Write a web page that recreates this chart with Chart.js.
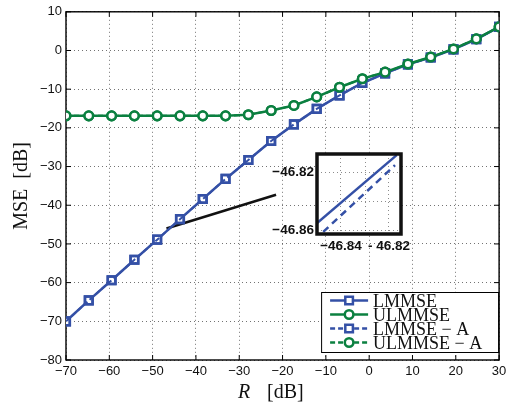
<!DOCTYPE html>
<html><head><meta charset="utf-8">
<script src="https://cdn.jsdelivr.net/npm/chart.js@4"></script>
<style>
html,body{margin:0;padding:0;background:#fff;}
#wrap{position:relative;width:507px;height:407px;overflow:hidden;}
#main{position:absolute;left:0;top:0;}
#inset{position:absolute;left:250px;top:140px;}
</style></head><body>
<div id="wrap"><canvas id="main" width="507" height="407"></canvas><canvas id="inset" width="180" height="120"></canvas></div>
<script>
// ---- data ----
const R = [-70, -64.74, -59.47, -54.21, -48.95, -43.68, -38.42, -33.16, -27.89, -22.63, -17.37, -12.11, -6.84, -1.58, 3.68, 8.95, 14.21, 19.47, 24.74, 30];
const lmmse   = [-70.0, -64.6, -59.4, -54.1, -48.9, -43.6, -38.4, -33.2, -28.3, -23.4, -19.1, -15.1, -11.6, -8.4, -5.9, -3.6, -1.8, 0.3, 2.9, 6.1];
const ulmmse  = [-16.9, -16.9, -16.9, -16.9, -16.9, -16.9, -16.9, -16.9, -16.6, -15.5, -14.2, -12.0, -9.5, -7.3, -5.6, -3.5, -1.7, 0.4, 3.0, 6.1];
const lmmseA  = [-70.0, -64.6, -59.4, -54.1, -48.9, -43.6, -38.4, -33.2, -28.3, -23.4, -19.1, -15.1, -11.6, -8.4, -5.9, -3.6, -1.8, 0.3, 2.9, 6.1];
const ulmmseA = [-16.9, -16.9, -16.9, -16.9, -16.9, -16.9, -16.9, -16.9, -16.6, -15.5, -14.2, -12.0, -9.5, -7.3, -5.6, -3.5, -1.7, 0.4, 3.0, 6.1];
const seriesNames = ['LMMSE', 'ULMMSE', 'LMMSE \u2212 A', 'ULMMSE \u2212 A'];
const xTicks = [-70, -60, -50, -40, -30, -20, -10, 0, 10, 20, 30];
const yTicks = [-80, -70, -60, -50, -40, -30, -20, -10, 0, 10];
const pointerX = [-46.8, -21.5];
const pointerY = [-46.0, -37.3];
// inset (zoomed) data
const insetSolidX = [-46.8502, -46.8168];
const insetSolidY = [-46.8553, -46.8083];
const insetDashX  = [-46.8474, -46.8175];
const insetDashY  = [-46.8610, -46.8152];
const insetXTicks = [-46.84, -46.83, -46.82];
const insetXLabels = ['\u221246.84', '', '- 46.82'];
const insetYTicks = [-46.86, -46.84, -46.82];
const insetYLabels = ['\u221246.86', '', '\u221246.82'];

const BLUE = '#3450a6';
const GREEN = '#0b8040';
const pts = (xs, ys) => xs.map((x, i) => ({x: x, y: ys[i]}));
const fmt = v => (v < 0 ? '\u2212' + Math.abs(v) : String(v));

function drawMarker(ctx, style, x, y, color) {
  ctx.save();
  ctx.strokeStyle = color; ctx.lineWidth = 2.5; ctx.fillStyle = '#fff';
  ctx.beginPath();
  if (style === 'rect') { ctx.rect(x - 3.8, y - 3.8, 7.6, 7.6); }
  else { ctx.arc(x, y, 4.3, 0, Math.PI * 2); }
  ctx.fill(); ctx.stroke();
  ctx.restore();
}

const framePlugin = {
  id: 'frame',
  beforeDatasetsDraw(chart) {
    const {ctx, chartArea: a, scales} = chart;
    ctx.save();
    ctx.strokeStyle = '#000'; ctx.lineWidth = 1.4;
    ctx.strokeRect(a.left, a.top, a.right - a.left, a.bottom - a.top);
    ctx.lineWidth = 1;
    ctx.beginPath();
    xTicks.forEach(v => {
      const px = scales.x.getPixelForValue(v);
      ctx.moveTo(px, a.bottom); ctx.lineTo(px, a.bottom - 5);
      ctx.moveTo(px, a.top); ctx.lineTo(px, a.top + 5);
    });
    yTicks.forEach(v => {
      const py = scales.y.getPixelForValue(v);
      ctx.moveTo(a.left, py); ctx.lineTo(a.left + 5, py);
      ctx.moveTo(a.right, py); ctx.lineTo(a.right - 5, py);
    });
    ctx.stroke();
    ctx.restore();
  },
  afterDraw(chart) {
    const {ctx, chartArea: a} = chart;
    ctx.save();
    // axis titles
    ctx.fillStyle = '#111';
    ctx.font = '20px "Liberation Serif"';
    ctx.textAlign = 'center'; ctx.textBaseline = 'middle';
    ctx.translate(22, (a.top + a.bottom) / 2);
    ctx.rotate(-Math.PI / 2);
    ctx.fillText('MSE  [dB]', 0, 0);
    ctx.restore();
    ctx.save();
    ctx.fillStyle = '#111';
    ctx.textAlign = 'left'; ctx.textBaseline = 'alphabetic';
    ctx.font = 'italic 20px "Liberation Serif"';
    ctx.fillText('R', 238, 398);
    ctx.font = '20px "Liberation Serif"';
    ctx.fillText('[dB]', 267, 398);
    // legend
    const bw = 177, bh = 60;
    const bx = a.right - 1 - bw, by = a.bottom - 8 - bh;
    ctx.fillStyle = '#fff'; ctx.fillRect(bx, by, bw, bh);
    ctx.strokeStyle = '#000'; ctx.lineWidth = 1; ctx.strokeRect(bx + 0.5, by + 0.5, bw, bh);
    const legendItems = [
      {name: seriesNames[0], color: BLUE, style: 'rect', dash: []},
      {name: seriesNames[1], color: GREEN, style: 'circle', dash: []},
      {name: seriesNames[2], color: BLUE, style: 'rect', dash: [5, 3]},
      {name: seriesNames[3], color: GREEN, style: 'circle', dash: [5, 3]}
    ];
    legendItems.forEach((it, i) => {
      const cy = by + 8.5 + i * 14;
      ctx.save();
      ctx.strokeStyle = it.color; ctx.lineWidth = 2.5; ctx.setLineDash(it.dash);
      ctx.beginPath(); ctx.moveTo(bx + 9, cy); ctx.lineTo(bx + 47, cy); ctx.stroke();
      ctx.restore();
      drawMarker(ctx, it.style, bx + 28, cy, it.color);
      ctx.fillStyle = '#111';
      ctx.font = '18px "Liberation Serif"';
      ctx.textAlign = 'left'; ctx.textBaseline = 'alphabetic';
      ctx.fillText(it.name, bx + 52, cy + 6.3);
    });
    ctx.restore();
  }
};

const gridCommon = {color: 'rgba(0,0,0,0.55)', lineWidth: 1, drawTicks: false};
const tickFont = {family: 'Liberation Sans', size: 13};

new Chart(document.getElementById('main'), {
  type: 'scatter',
  data: {
    datasets: [
      {label: seriesNames[1], data: pts(R, ulmmse), showLine: true, borderColor: GREEN, borderWidth: 2.5,
       pointStyle: 'circle', pointRadius: 4.3, pointBorderWidth: 2.5, pointBorderColor: GREEN, pointBackgroundColor: '#fff', order: 1},
      {label: seriesNames[2], data: pts(R, lmmseA), showLine: true, borderColor: BLUE, borderWidth: 2, borderDash: [5, 3],
       pointStyle: 'rect', pointRadius: 5.4, pointBorderWidth: 2.5, pointBorderColor: BLUE, pointBackgroundColor: 'rgba(0,0,0,0)', order: 2},
      {label: seriesNames[0], data: pts(R, lmmse), showLine: true, borderColor: BLUE, borderWidth: 2.5,
       pointStyle: 'rect', pointRadius: 5.4, pointBorderWidth: 2.5, pointBorderColor: BLUE, pointBackgroundColor: '#fff', order: 3},
      {label: seriesNames[3], data: pts(R, ulmmseA), showLine: true, borderColor: GREEN, borderWidth: 2, borderDash: [5, 3],
       pointStyle: 'circle', pointRadius: 4.3, pointBorderWidth: 2.5, pointBorderColor: GREEN, pointBackgroundColor: 'rgba(0,0,0,0)', order: 4},
      {label: 'pointer', data: pts(pointerX, pointerY), showLine: true, borderColor: '#111', borderWidth: 2.5, pointRadius: 0, order: 5}
    ]
  },
  options: {
    responsive: false, animation: false, devicePixelRatio: 1,
    layout: {padding: {top: 10, right: 0, left: 0, bottom: 0}},
    plugins: {legend: {display: false}, tooltip: {enabled: false}},
    scales: {
      x: {type: 'linear', min: -70, max: 30,
          afterBuildTicks: s => { s.ticks = xTicks.map(v => ({value: v})); },
          afterFit: s => { s.height = 47; s.paddingRight = 7; s.paddingLeft = 0; },
          grid: gridCommon, border: {display: false, dash: [1, 3]},
          ticks: {font: tickFont, color: '#111', padding: 4, maxRotation: 0, autoSkip: false, callback: v => fmt(v)}},
      y: {type: 'linear', min: -80, max: 10,
          afterBuildTicks: s => { s.ticks = yTicks.map(v => ({value: v})); },
          afterFit: s => { s.width = 66; },
          grid: gridCommon, border: {display: false, dash: [1, 3]},
          ticks: {font: tickFont, color: '#111', padding: 4, autoSkip: false, callback: v => fmt(v)}}
    }
  },
  plugins: [framePlugin]
});

const insetPlugin = {
  id: 'insetFrame',
  beforeDraw(chart) {
    const {ctx, chartArea: a} = chart;
    ctx.save(); ctx.fillStyle = '#fff';
    ctx.fillRect(a.left, a.top, a.right - a.left, a.bottom - a.top);
    ctx.restore();
  },
  afterDraw(chart) {
    const {ctx, chartArea: a} = chart;
    ctx.save(); ctx.strokeStyle = '#111'; ctx.lineWidth = 3.5;
    ctx.strokeRect(a.left, a.top, a.right - a.left, a.bottom - a.top);
    ctx.restore();
  }
};
const insetFont = {family: 'Liberation Sans', size: 13.5, weight: 'bold'};
new Chart(document.getElementById('inset'), {
  type: 'scatter',
  data: {
    datasets: [
      {data: pts(insetSolidX, insetSolidY), showLine: true, borderColor: BLUE, borderWidth: 2.5, pointRadius: 0},
      {data: pts(insetDashX, insetDashY), showLine: true, borderColor: BLUE, borderWidth: 2.5, borderDash: [7, 5], pointRadius: 0}
    ]
  },
  options: {
    responsive: false, animation: false, devicePixelRatio: 1,
    layout: {padding: {top: 14, right: 29, left: 0, bottom: 0}},
    plugins: {legend: {display: false}, tooltip: {enabled: false}},
    scales: {
      x: {type: 'linear', min: -46.85, max: -46.815,
          afterBuildTicks: s => { s.ticks = insetXTicks.map(v => ({value: v})); },
          afterFit: s => { s.height = 26; },
          grid: {color: 'rgba(0,0,0,0.45)', lineWidth: 1, drawTicks: false}, border: {display: false, dash: [1, 3]},
          ticks: {font: insetFont, color: '#111', padding: 4, maxRotation: 0, autoSkip: false, callback: (v, i) => insetXLabels[i]}},
      y: {type: 'linear', min: -46.8625, max: -46.8075,
          afterBuildTicks: s => { s.ticks = insetYTicks.map(v => ({value: v})); },
          afterFit: s => { s.width = 67; },
          grid: {color: 'rgba(0,0,0,0.45)', lineWidth: 1, drawTicks: false}, border: {display: false, dash: [1, 3]},
          ticks: {font: insetFont, color: '#111', padding: 3, autoSkip: false, callback: (v, i) => insetYLabels[i]}}
    }
  },
  plugins: [insetPlugin]
});
</script>
</body></html>
